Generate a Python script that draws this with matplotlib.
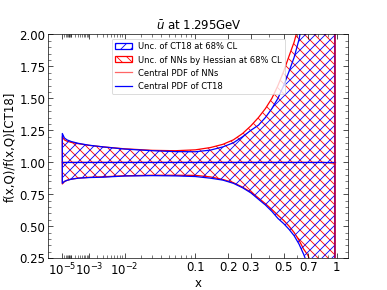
import numpy as np
import matplotlib
matplotlib.use("Agg")
import matplotlib.pyplot as plt
from matplotlib.patches import Patch
from matplotlib.lines import Line2D
from matplotlib.ticker import FixedLocator

x = [1e-5, 2e-5, 4e-5, 1e-4, 3e-4, 1e-3, 3e-3, 1e-2, 3e-2, 0.06, 0.1, 0.14, 0.18,
     0.22, 0.26, 0.3, 0.34, 0.38, 0.42, 0.46, 0.5, 0.54, 0.58, 0.62, 0.66, 0.7,
     0.75, 0.8, 0.85, 0.9, 0.94, 0.977]

ct18_hi = [1.225, 1.19, 1.175, 1.162, 1.148, 1.133, 1.12, 1.103, 1.09, 1.083, 1.082,
           1.095, 1.12, 1.152, 1.20, 1.25, 1.29, 1.35, 1.42, 1.50, 1.60, 1.71, 1.82,
           1.96, 2.15, 2.4, 2.8, 3.3, 4.0, 5.0, 6.0, 7.0]
ct18_lo = [0.835, 0.85, 0.858, 0.867, 0.875, 0.88, 0.883, 0.892, 0.895, 0.893, 0.888,
           0.875, 0.86, 0.835, 0.80, 0.76, 0.71, 0.665, 0.615, 0.56, 0.52, 0.475, 0.425,
           0.36, 0.28, 0.19, 0.05, -0.1, -0.3, -0.6, -0.9, -1.2]
nn_hi = [1.20, 1.175, 1.165, 1.155, 1.145, 1.132, 1.12, 1.105, 1.093, 1.09, 1.097,
         1.115, 1.14, 1.175, 1.225, 1.285, 1.35, 1.42, 1.50, 1.60, 1.71, 1.83, 1.94,
         2.08, 2.25, 2.5, 2.9, 3.4, 4.1, 5.1, 6.1, 7.1]
nn_lo = [0.83, 0.848, 0.858, 0.868, 0.876, 0.882, 0.886, 0.894, 0.898, 0.898, 0.897,
         0.885, 0.865, 0.84, 0.805, 0.765, 0.72, 0.675, 0.63, 0.585, 0.545, 0.50, 0.45,
         0.39, 0.32, 0.27, 0.15, 0.0, -0.2, -0.5, -0.8, -1.1]
nn_central = [1.0] * 29 + [0.995, 0.99, 0.985]
ct18_central = [1.0] * len(x)

xticks = [1e-5, 1e-3, 1e-2, 0.1, 0.2, 0.3, 0.5, 0.7, 1]
xticklabels = ['$10^{-5}$', '$10^{-3}$', '$10^{-2}$', '0.1', '0.2', '0.3', '0.5', '0.7', '1']


def fwd(v):
    v = np.asarray(v, dtype=float)
    return np.sign(v) * np.abs(v) ** 0.3


def inv(v):
    v = np.asarray(v, dtype=float)
    return np.sign(v) * np.abs(v) ** (1 / 0.3)


fig, ax = plt.subplots(figsize=(6.4, 4.8), dpi=60.5)

ax.fill_between(x, nn_lo, nn_hi, facecolor='none', edgecolor='red', hatch='\\\\', lw=1.5)
ax.fill_between(x, ct18_lo, ct18_hi, facecolor='none', edgecolor='blue', hatch='//', lw=1.5)
ax.plot(x, nn_central, color='red', alpha=0.6, lw=1.5)
ax.plot(x, ct18_central, color='blue', lw=1.5)
ax.axvline(x[-1], color='red', alpha=0.6, lw=2)

ax.set_xscale('function', functions=(fwd, inv))
ax.set_xlim(inv(-0.0175), inv(1.041))
ax.set_ylim(0.25, 2.0)

minors = [m * d for d in (1e-5, 1e-4, 1e-3, 1e-2) for m in range(2, 10)] + [1e-4, 0.4, 0.6, 0.8, 0.9]
ax.xaxis.set_major_locator(FixedLocator(xticks))
ax.xaxis.set_minor_locator(FixedLocator(minors))
ax.set_xticklabels(xticklabels)
ax.set_yticks([0.25, 0.5, 0.75, 1.0, 1.25, 1.5, 1.75, 2.0])
ax.yaxis.set_minor_locator(FixedLocator(np.arange(0.25, 2.01, 0.05)))
ax.tick_params(which='both', direction='in', top=True, right=True, labelsize=14)
ax.tick_params(which='major', length=6)
ax.tick_params(which='minor', length=3)

ax.set_title(r'$\bar{u}$ at 1.295GeV', fontsize=14)
ax.set_xlabel('x', fontsize=14, labelpad=-1)
ax.set_ylabel('f(x,Q)/f(x,Q)[CT18]', fontsize=14)

handles = [
    Patch(facecolor='none', edgecolor='blue', hatch='//', lw=1.5),
    Patch(facecolor='none', edgecolor='red', hatch='\\\\', lw=1.5),
    Line2D([], [], color='red', alpha=0.6, lw=1.5),
    Line2D([], [], color='blue', lw=1.5),
]
labels = ['Unc. of CT18 at 68% CL', 'Unc. of NNs by Hessian at 68% CL',
          'Central PDF of NNs', 'Central PDF of CT18']
ax.legend(handles, labels, loc='upper center', fontsize=10)

fig.savefig('out.png', dpi=60.5)
